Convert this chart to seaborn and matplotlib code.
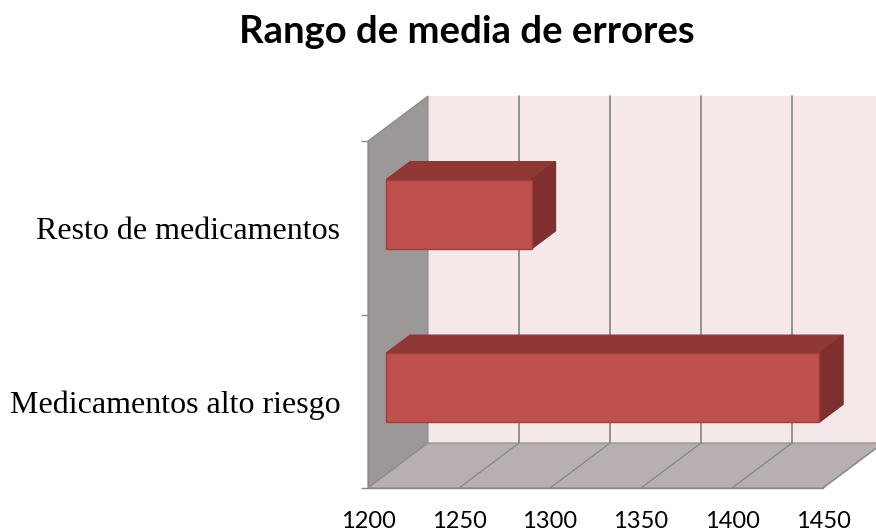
import matplotlib
matplotlib.use("Agg")
import matplotlib.pyplot as plt
from matplotlib.patches import Polygon
from matplotlib.transforms import ScaledTranslation
import seaborn as sns
import pandas as pd

categories = ["Resto de medicamentos", "Medicamentos alto riesgo"]
values = [1280, 1438]
x_ticks = [1200, 1250, 1300, 1350, 1400, 1450]
title = "Rango de media de errores"

sns.set_theme(style="white")
plt.rcParams["font.family"] = ["Lato", "DejaVu Sans"]

W, H, DPI = 876, 532, 100
fig = plt.figure(figsize=(W / DPI, H / DPI), dpi=DPI)
ax = fig.add_axes([368 / W, 44 / H, 455 / W, 347 / H])
ax.set_facecolor("none")

df = pd.DataFrame({"categoria": categories, "valor": values})
sns.barplot(data=df, x="valor", y="categoria", orient="h", width=0.4,
            color="#C0504D", saturation=1, ax=ax, zorder=5)

XMIN, XMAX = x_ticks[0], x_ticks[-1]
ax.set_xlim(XMIN, XMAX)
ax.set_ylim(len(categories) - 0.5, -0.5)
Y_TOP, Y_BOT = -0.5, len(categories) - 0.5

# depth of the 3-D box in inches (x to the right, y upwards)
DX, DY = 0.60, 0.45
F_FRONT, F_BACK = 0.3, 0.7   # bar depth range inside the box

GRID = "#8A8A8A"
WALL_SIDE = "#9D9898"
FLOOR = "#B8B0B0"
WALL_BACK = "#F4E8E8"
BAR_TOP = "#8F3836"
BAR_SIDE = "#7E2F2E"
BAR_EDGE = "#A13E3B"


def pt(x, y, f):
    """Data point pushed back by depth fraction f, in figure coords."""
    dx, dy = ax.transData.transform((x, y))
    dx += f * DX * DPI
    dy += f * DY * DPI
    return fig.transFigure.inverted().transform((dx, dy))


def face(points, fc, ec, z, lw=0.8):
    poly = Polygon([pt(*p) for p in points], closed=True, facecolor=fc,
                   edgecolor=ec, linewidth=lw, transform=fig.transFigure,
                   clip_on=False, zorder=z)
    ax.add_patch(poly)


def seg(p0, p1, z, color=GRID, lw=1.0):
    a, b = pt(*p0), pt(*p1)
    ax.add_line(plt.Line2D([a[0], b[0]], [a[1], b[1]], color=color, lw=lw,
                           transform=fig.transFigure, clip_on=False, zorder=z))


# back wall, side wall and floor
face([(XMIN, Y_TOP, 1), (XMAX + 20, Y_TOP, 1), (XMAX + 20, Y_BOT, 1), (XMIN, Y_BOT, 1)],
     WALL_BACK, "none", 0.1)
face([(XMIN, Y_TOP, 0), (XMIN, Y_TOP, 1), (XMIN, Y_BOT, 1), (XMIN, Y_BOT, 0)],
     WALL_SIDE, GRID, 0.2)
face([(XMIN, Y_BOT, 0), (XMAX, Y_BOT, 0), (XMAX, Y_BOT, 1), (XMIN, Y_BOT, 1)],
     FLOOR, GRID, 0.3)

# gridlines on the back wall and the floor
for t in x_ticks[1:]:
    seg((t, Y_TOP, 1), (t, Y_BOT, 1), 0.4, lw=1.3)
    seg((t, Y_BOT, 0), (t, Y_BOT, 1), 0.4)

# bars: seaborn rectangle as the front face, plus top and side faces
trans_front = ax.transData + ScaledTranslation(F_FRONT * DX, F_FRONT * DY,
                                               fig.dpi_scale_trans)
for patch in ax.patches[:]:
    if not isinstance(patch, matplotlib.patches.Rectangle):
        continue
    x1 = patch.get_x() + patch.get_width()
    patch.set_x(XMIN)
    patch.set_width(x1 - XMIN)
    patch.set_transform(trans_front)
    patch.set_clip_on(False)
    patch.set_edgecolor(BAR_EDGE)
    patch.set_linewidth(1.0)
    y0 = patch.get_y()
    y1 = y0 + patch.get_height()
    face([(XMIN, y0, F_FRONT), (x1, y0, F_FRONT), (x1, y0, F_BACK), (XMIN, y0, F_BACK)],
         BAR_TOP, BAR_TOP, 4)
    face([(x1, y0, F_FRONT), (x1, y1, F_FRONT), (x1, y1, F_BACK), (x1, y0, F_BACK)],
         BAR_SIDE, BAR_SIDE, 4)

# axes
for s in ["top", "right"]:
    ax.spines[s].set_visible(False)
for s in ["left", "bottom"]:
    ax.spines[s].set_color(GRID)
    ax.spines[s].set_linewidth(1.0)

ax.set_xticks(x_ticks)
ax.set_xticklabels([str(t) for t in x_ticks], fontsize=17, color="black")
ax.tick_params(axis="x", direction="out", length=6, width=1, color=GRID, pad=10.5)

ax.set_yticks(range(len(categories)))
ax.set_yticklabels(categories, fontsize=23, family="Liberation Serif", color="black")
ax.set_yticks([Y_TOP, 0.5, Y_BOT], minor=True)
ax.tick_params(axis="y", which="major", length=0, pad=20)
ax.tick_params(axis="y", which="minor", direction="out", length=5, width=1,
               color=GRID, left=True)
ax.set_xlabel("")
ax.set_ylabel("")

fig.text(0.5325, 1 - 43 / H, title, ha="center", va="baseline", fontsize=27.5,
         fontweight="bold", color="black")

fig.savefig("out.png", dpi=DPI)
